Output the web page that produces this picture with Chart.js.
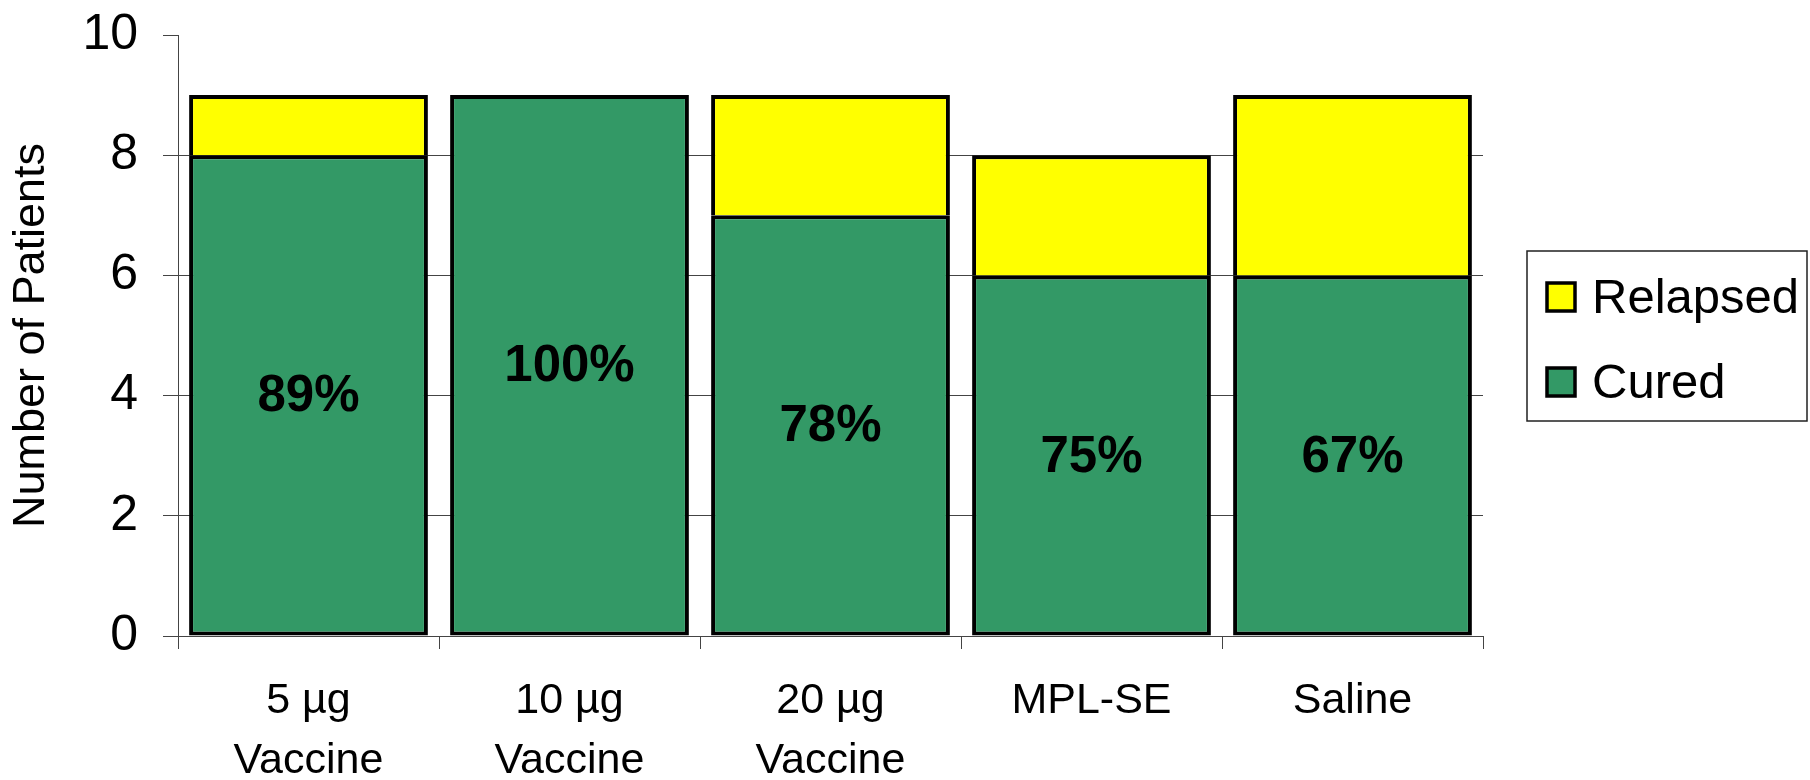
<!DOCTYPE html>
<html>
<head>
<meta charset="utf-8">
<script src="https://cdn.jsdelivr.net/npm/chart.js@4"></script>
<style>
  html, body { margin: 0; padding: 0; background: #ffffff; }
  canvas { display: block; }
</style>
</head>
<body>
<canvas id="chart" width="1810" height="780"></canvas>
<script>
// Treatment groups on the x axis
const groups = [['5 µg', 'Vaccine'], ['10 µg', 'Vaccine'], ['20 µg', 'Vaccine'], 'MPL-SE', 'Saline'];
// Patients per group by outcome
const cured = [8, 9, 7, 6, 6];
const relapsed = [1, 0, 2, 2, 3];
// Y axis range and tick spacing
const yTickValues = [0, 2, 4, 6, 8, 10];

const FONT = "'Liberation Sans', Arial, Helvetica, sans-serif";
const GREEN = '#339966';
const YELLOW = '#ffff00';
const AXIS = '#444444';
const Y_MAX = yTickValues[yTickValues.length - 1];

// Cure rate printed in the middle of each green segment
const cureRateLabels = {
  id: 'cureRateLabels',
  afterDatasetsDraw(chart) {
    const ctx = chart.ctx;
    const meta = chart.getDatasetMeta(0);
    ctx.save();
    ctx.font = 'bold 51px ' + FONT;
    ctx.fillStyle = '#000000';
    ctx.textAlign = 'center';
    ctx.textBaseline = 'middle';
    meta.data.forEach((bar, i) => {
      const total = cured[i] + relapsed[i];
      const pct = Math.round(cured[i] / total * 100) + '%';
      ctx.fillText(pct, bar.x, (bar.y + bar.base) / 2 + 2);
    });
    ctx.restore();
  }
};

// Boxed legend to the right of the plot, top series listed first
const boxedLegend = {
  id: 'boxedLegend',
  afterDraw(chart) {
    const ctx = chart.ctx;
    const box = { x: 1527, y: 251, w: 280, h: 170 };
    ctx.save();
    ctx.strokeStyle = '#202020';
    ctx.lineWidth = 1.5;
    ctx.strokeRect(box.x, box.y, box.w, box.h);
    const items = chart.data.datasets.slice().reverse();
    const rowY = [297, 382];
    items.forEach((ds, i) => {
      const cy = rowY[i];
      ctx.fillStyle = ds.backgroundColor;
      ctx.fillRect(1547, cy - 14, 28, 28);
      ctx.strokeStyle = '#000000';
      ctx.lineWidth = 3.5;
      ctx.strokeRect(1547, cy - 14, 28, 28);
      ctx.fillStyle = '#000000';
      ctx.font = '49px ' + FONT;
      ctx.textAlign = 'left';
      ctx.textBaseline = 'middle';
      ctx.fillText(ds.label, 1592, cy + 2);
    });
    ctx.restore();
  }
};

new Chart(document.getElementById('chart'), {
  type: 'bar',
  data: {
    labels: groups,
    datasets: [
      {
        label: 'Cured',
        data: cured,
        backgroundColor: GREEN,
        borderColor: '#000000',
        borderWidth: 4,
        borderSkipped: false,
        barPercentage: 0.915,
        categoryPercentage: 1.0
      },
      {
        label: 'Relapsed',
        data: relapsed,
        backgroundColor: YELLOW,
        borderColor: '#000000',
        borderWidth: 4,
        borderSkipped: 'bottom',
        barPercentage: 0.915,
        categoryPercentage: 1.0
      }
    ]
  },
  options: {
    responsive: false,
    devicePixelRatio: 1,
    animation: false,
    layout: { padding: { top: 35, right: 327, bottom: 0, left: 0 } },
    plugins: {
      legend: { display: false },
      tooltip: { enabled: false }
    },
    scales: {
      x: {
        stacked: true,
        offset: true,
        grid: {
          display: true,
          drawOnChartArea: false,
          drawTicks: true,
          tickLength: 13,
          color: AXIS,
          lineWidth: 1,
          offset: true
        },
        border: { display: true, color: AXIS, width: 1 },
        ticks: {
          color: '#000000',
          font: { family: FONT, size: 43, lineHeight: 1.4 },
          padding: 22,
          maxRotation: 0,
          autoSkip: false
        },
        afterFit(scale) { scale.height = 144; }
      },
      y: {
        stacked: true,
        min: yTickValues[0],
        max: Y_MAX,
        afterBuildTicks(scale) {
          scale.ticks = yTickValues.map(v => ({ value: v }));
        },
        grid: {
          // no line across the top of the plot, only its tick mark
          color: c => (c.tick && c.tick.value === Y_MAX) ? 'rgba(0,0,0,0)' : AXIS,
          tickColor: AXIS,
          lineWidth: 1,
          drawTicks: true,
          tickLength: 15
        },
        border: { display: true, color: AXIS, width: 1 },
        ticks: {
          color: '#000000',
          font: { family: FONT, size: 50 },
          padding: 25
        },
        title: {
          display: true,
          text: 'Number of Patients',
          color: '#000000',
          font: { family: FONT, size: 45, lineHeight: 1.2 },
          padding: { top: 5, bottom: 0 }
        },
        afterFit(scale) {
          scale.width = 178;
          scale.paddingTop = 0;
          scale.paddingBottom = 0;
        }
      }
    }
  },
  plugins: [cureRateLabels, boxedLegend]
});
</script>
</body>
</html>
